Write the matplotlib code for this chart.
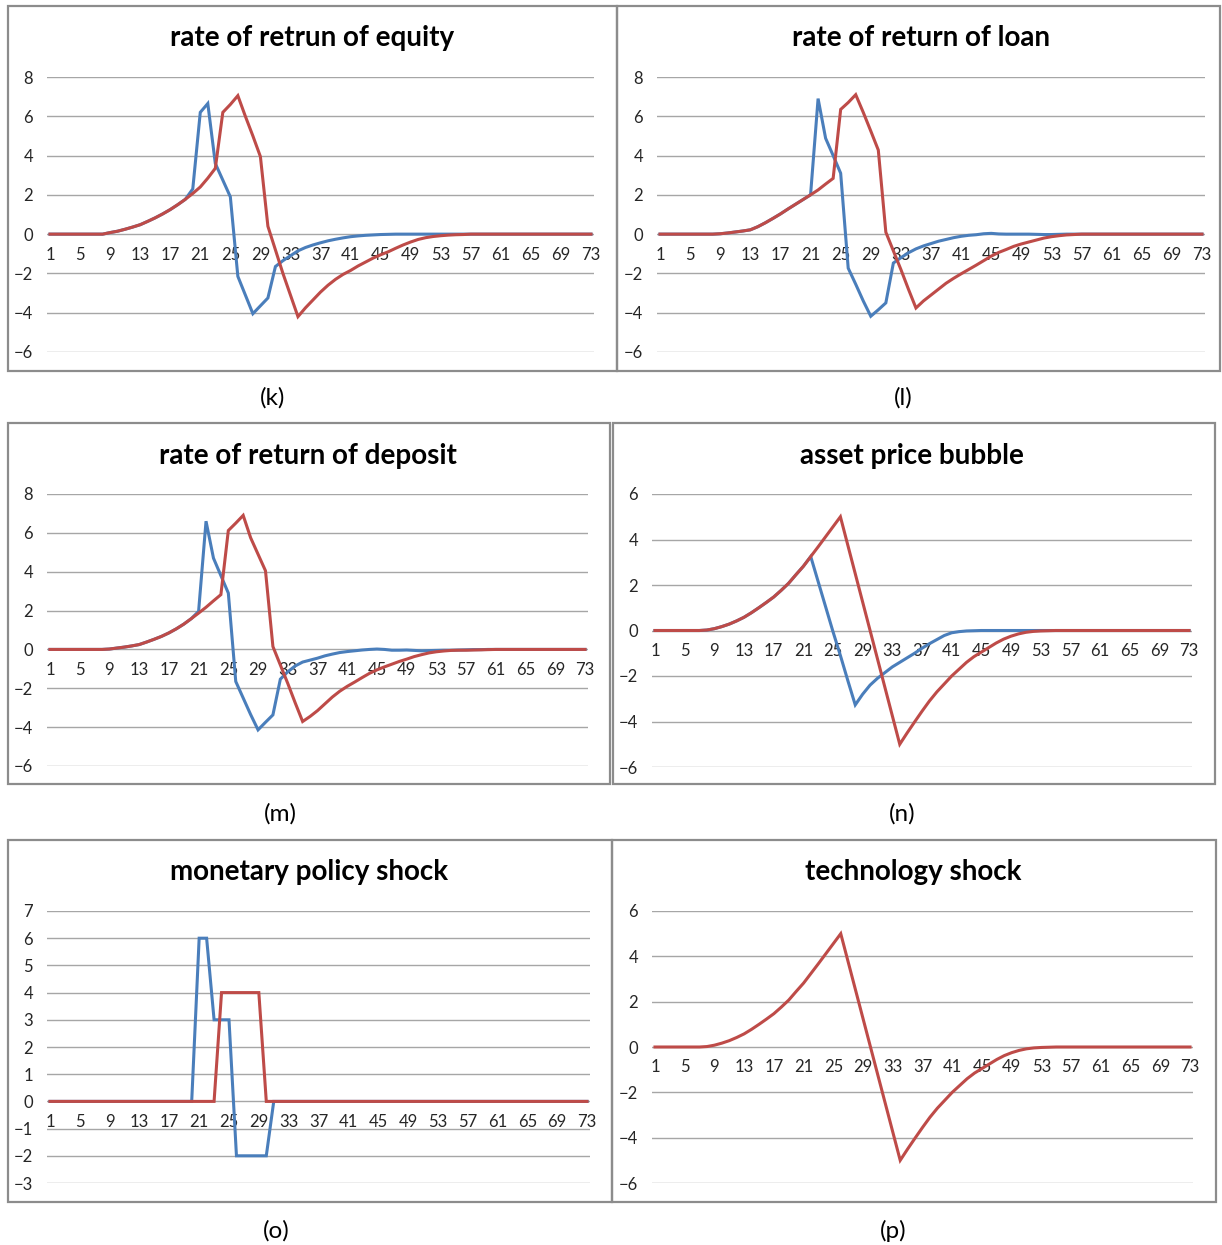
import matplotlib
matplotlib.use("Agg")
from matplotlib import pyplot as plt
from matplotlib.patches import Rectangle

plt.rcParams['font.family'] = ['Lato', 'DejaVu Sans']

# periods 1..73
periods = list(range(1, 74))
xtick_vals = list(range(1, 74, 4))

# (k) rate of return of equity
equity_blue = [0] * 8 + [0.08, 0.15, 0.25, 0.36, 0.48, 0.65, 0.83, 1.03, 1.25, 1.5, 1.77] + \
    [2.3, 6.2, 6.65, 3.6, 2.75, 1.9, -2.15, -3.1, -4.05, -3.65, -3.25, -1.65] + \
    [-1.35, -1.1, -0.85, -0.68, -0.55, -0.44, -0.34, -0.26, -0.19, -0.13, -0.09, -0.06, -0.04, -0.02, -0.01] + [0] * 27
equity_red = [0] * 8 + [0.08, 0.15, 0.25, 0.36, 0.48, 0.65, 0.83, 1.03, 1.25, 1.5, 1.77, 2.07, 2.4, 2.85, 3.35] + \
    [6.2, 6.6, 7.05, 6.0, 5.0, 3.95] + [0.4, -0.8, -2.0, -3.1, -4.2] + \
    [-3.75, -3.35, -2.95, -2.6, -2.3, -2.05, -1.85, -1.62, -1.42, -1.22, -1.05, -0.9, -0.72, -0.55, -0.4,
     -0.27, -0.18, -0.12, -0.08, -0.05, -0.03, -0.02] + [0] * 17

# (l) rate of return of loan
loan_blue = [0] * 8 + [0.02, 0.06, 0.11, 0.16, 0.22, 0.38, 0.58, 0.8, 1.03, 1.28, 1.52, 1.76] + \
    [2.0, 6.9, 4.88, 4.0, 3.1, -1.73, -2.55, -3.4, -4.18, -3.85, -3.5, -1.47] + \
    [-1.2, -0.95, -0.75, -0.6, -0.48, -0.36, -0.27, -0.18, -0.11, -0.06, -0.03, 0.02, 0.04, 0.01, 0, 0, 0, 0,
     -0.01, -0.02] + [-0.02, -0.01] + [0] * 19
loan_red = [0] * 8 + [0.02, 0.06, 0.11, 0.16, 0.22, 0.38, 0.58, 0.8, 1.03, 1.28, 1.52, 1.76, 2.0, 2.25, 2.55, 2.84] + \
    [6.35, 6.7, 7.1, 6.2, 5.25, 4.28] + [0.1, -0.85, -1.8, -2.8, -3.76] + \
    [-3.4, -3.1, -2.8, -2.5, -2.25, -2.02, -1.8, -1.58, -1.35, -1.12, -0.93, -0.78, -0.62, -0.5, -0.4, -0.3,
     -0.2, -0.13, -0.08, -0.04, -0.02] + [0] * 17

# (m) rate of return of deposit
deposit_blue = [0] * 8 + [0.02, 0.07, 0.12, 0.18, 0.25, 0.38, 0.52, 0.67, 0.85, 1.06, 1.3, 1.58] + \
    [1.96, 6.6, 4.7, 3.8, 2.9, -1.65, -2.5, -3.35, -4.14, -3.75, -3.37, -1.53] + \
    [-1.15, -0.85, -0.65, -0.55, -0.45, -0.33, -0.24, -0.16, -0.11, -0.07, -0.03, 0, 0.02, 0, -0.04, -0.04,
     -0.03, -0.05, -0.07, -0.06, -0.05, -0.04, -0.04, -0.03, -0.02, -0.01, -0.01, 0] + [0] * 13
deposit_red = [0] * 8 + [0.02, 0.07, 0.12, 0.18, 0.25, 0.38, 0.52, 0.67, 0.85, 1.06, 1.3, 1.58, 1.87, 2.17, 2.5, 2.82] + \
    [6.12, 6.5, 6.9, 5.75, 4.9, 4.05] + [0.15, -0.8, -1.75, -2.75, -3.71] + \
    [-3.45, -3.15, -2.8, -2.45, -2.15, -1.9, -1.68, -1.45, -1.23, -1.05, -0.9, -0.76, -0.62, -0.5, -0.37,
     -0.27, -0.18, -0.12, -0.08, -0.05, -0.04, -0.04, -0.03, -0.02, -0.01] + [0] * 13

# (n) asset price bubble, (p) technology shock
bubble_blue = [0] * 7 + [0.02, 0.08, 0.17, 0.28, 0.42, 0.58, 0.78, 1.0, 1.23, 1.47, 1.76, 2.07, 2.45, 2.82, 3.25] + \
    [2.15, 1.05, -0.05, -1.1, -2.2, -3.27] + \
    [-2.8, -2.4, -2.1, -1.85, -1.6, -1.4, -1.2, -1.0, -0.78, -0.58, -0.4, -0.22, -0.1, -0.05, -0.02, -0.01, 0] + \
    [0] * 28
tech_red = [0] * 7 + [0.02, 0.08, 0.17, 0.28, 0.42, 0.58, 0.78, 1.0, 1.23, 1.47, 1.76, 2.07, 2.45, 2.82, 3.25,
                      3.68, 4.12, 4.56, 5.0] + \
    [3.75, 2.5, 1.25, 0.0, -1.25, -2.5, -3.75, -5.0] + \
    [-4.5, -4.02, -3.55, -3.1, -2.7, -2.35, -2.0, -1.7, -1.4, -1.15, -0.95, -0.75, -0.55, -0.38, -0.25, -0.15,
     -0.08, -0.04, -0.02, -0.01, 0] + [0] * 18

# (o) monetary policy shock
monetary_blue = [0] * 20 + [6, 6, 3, 3, 3, -2, -2, -2, -2, -2, 0] + [0] * 42
monetary_red = [0] * 23 + [4, 4, 4, 4, 4, 4] + [0] * 44

BLUE = '#4a7ebb'
RED = '#be4b48'
W, H = 1222, 1245

fig = plt.figure(figsize=(W / 100, H / 100), dpi=100)


def fbox(l, t, r, b):
    return [l / W, 1 - b / H, (r - l) / W, (b - t) / H]


# frame box, plot box, title, title centre, label, label centre, y ticks, series
panels = [
    ((8, 6, 617, 371), (47, 77, 594, 352), 'rate of retrun of equity', (312, 38), '(k)', (273, 398),
     range(-6, 9, 2), [equity_blue, equity_red]),
    ((617, 6, 1220, 371), (657, 77, 1205, 352), 'rate of return of loan', (921, 38), '(l)', (903, 398),
     range(-6, 9, 2), [loan_blue, loan_red]),
    ((8, 423, 610, 784), (47, 494, 588, 766), 'rate of return of deposit', (308, 456), '(m)', (280, 814),
     range(-6, 9, 2), [deposit_blue, deposit_red]),
    ((613, 423, 1215, 784), (652, 494, 1192, 767), 'asset price bubble', (912, 456), '(n)', (902, 814),
     range(-6, 7, 2), [bubble_blue, tech_red]),
    ((8, 840, 612, 1202), (47, 911, 590, 1183), 'monetary policy shock', (309, 872), '(o)', (276, 1231),
     range(-3, 8, 1), [monetary_blue, monetary_red]),
    ((612, 840, 1216, 1202), (652, 911, 1193, 1183), 'technology shock', (913, 872), '(p)', (893, 1231),
     range(-6, 7, 2), [None, tech_red]),
]

for frame, pbox, title, tpos, label, lpos, yt, series in panels:
    l, t, r, b = frame
    fig.add_artist(Rectangle((l / W, 1 - b / H), (r - l) / W, (b - t) / H, transform=fig.transFigure,
                             fill=False, ec='#8c8c8c', lw=1.6))
    ax = fig.add_axes(fbox(*pbox))
    for s, c in zip(series, [BLUE, RED]):
        if s is not None:
            ax.plot(periods, s, color=c, lw=2.2, solid_joinstyle='miter', clip_on=False)
    ax.set_xlim(0.6, 73.4)
    ax.set_ylim(min(yt), max(yt))
    ax.set_yticks(list(yt))
    ax.set_xticks(xtick_vals)
    ax.yaxis.grid(True, color='#a6a6a6', lw=1)
    ax.set_axisbelow(True)
    for sp in ['top', 'right', 'left']:
        ax.spines[sp].set_visible(False)
    ax.spines['bottom'].set_position(('data', 0))
    ax.spines['bottom'].set_visible(False)
    ax.tick_params(axis='y', length=0, pad=10, labelsize=12, labelcolor='#262626')
    ax.tick_params(axis='x', length=0, pad=9, labelsize=12, labelcolor='#262626')
    ax.patch.set_visible(False)
    fig.text(tpos[0] / W, 1 - tpos[1] / H, title, ha='center', va='center', fontsize=20, fontweight='bold')
    fig.text(lpos[0] / W, 1 - lpos[1] / H, label, ha='center', va='center', fontsize=17.5)

fig.savefig('out.png', dpi=100)
